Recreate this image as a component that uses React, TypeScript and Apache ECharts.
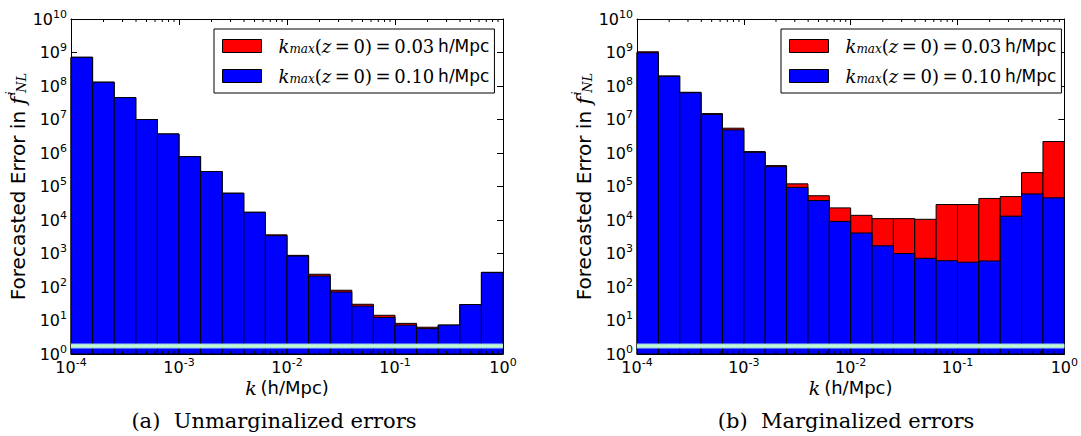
import React, { useEffect, useRef } from "react";
import * as echarts from "echarts";

// bin edges in log10(k), 5 bins per decade
const binEdgeExp = [-4, -3.8, -3.6, -3.4, -3.2, -3, -2.8, -2.6, -2.4, -2.2, -2, -1.8, -1.6, -1.4, -1.2, -1, -0.8, -0.6, -0.4, -0.2, 0];

// (a) unmarginalized errors
const unmargK003 = [7.2e8, 1.3e8, 4.5e7, 1.0e7, 3.7e6, 7.8e5, 2.8e5, 6.3e4, 1.7e4, 3.6e3, 8.8e2, 240, 80, 30.5, 14.3, 8.2, 6.3, 7.3, 30, 275];
const unmargK010 = [7.2e8, 1.3e8, 4.5e7, 1.0e7, 3.7e6, 7.8e5, 2.8e5, 6.3e4, 1.7e4, 3.4e3, 8.4e2, 213, 71, 27, 12.4, 7.3, 5.7, 7.3, 30, 270];

// (b) marginalized errors
const margK003 = [1.05e9, 2.0e8, 6.5e7, 1.5e7, 5.5e6, 1.1e6, 4.2e5, 1.2e5, 5.3e4, 2.3e4, 1.38e4, 1.1e4, 1.1e4, 1.05e4, 2.9e4, 2.9e4, 4.4e4, 5.0e4, 2.6e5, 2.2e6];
const margK010 = [9.8e8, 1.95e8, 6.3e7, 1.42e7, 4.9e6, 1.05e6, 3.9e5, 9.4e4, 3.8e4, 9.1e3, 4.1e3, 1.7e3, 1.0e3, 720, 610, 550, 600, 1.3e4, 6.0e4, 4.6e4];

const refLevel = 1.73;

const captions = ["(a)  Unmarginalized errors", "(b)  Marginalized errors"];
const seriesNames = ["k003", "k010"];
const legendValues = ["0.03", "0.10"];

const RED = "#ff0000";
const BLUE = "#0000ff";

const kEdges = binEdgeExp.map((e) => Math.pow(10, e));
const binData = (vals: number[]) => vals.map((v, i) => [kEdges[i], kEdges[i + 1], v]);

const minorX: number[] = [];
for (let d = -4; d < 0; d++) for (let m = 2; m <= 9; m++) minorX.push(m * Math.pow(10, d));

const SANS = "DejaVu Sans";
const SERIF = "DejaVu Serif";

const expFormatter = (v: number) => {
  const e = Math.round(Math.log10(v));
  return `{b|10}{s|${e}}`;
};
const tickRich = {
  b: { fontSize: 16, fontFamily: SANS, color: "#000" },
  s: { fontSize: 11, fontFamily: SANS, color: "#000", padding: [0, 0, 10, 0] },
};

export default function App() {
  const ref = useRef<HTMLDivElement>(null);
  useEffect(() => {
    document.body.style.margin = "0";
    const chart = echarts.init(ref.current!, null, { renderer: "svg" });

    const grids = [
      { left: 71, top: 19, width: 432, height: 335 },
      { left: 637, top: 19, width: 432, height: 335 },
    ];

    const xAxes: any[] = [];
    const yAxes: any[] = [];
    grids.forEach((_, g) => {
      const common = {
        type: "log",
        logBase: 10,
        min: 1e-4,
        max: 1,
        interval: 1,
        gridIndex: g,
        splitLine: { show: false },
        axisLine: { lineStyle: { color: "#000", width: 1 } },
        axisTick: { inside: true, length: 6, lineStyle: { color: "#000" } },
      };
      xAxes.push({
        ...common,
        position: "bottom",
        axisLabel: { formatter: expFormatter, rich: tickRich, margin: 3 },
        name: "{k|k} {t|(h/Mpc)}",
        nameLocation: "middle",
        nameGap: 24,
        nameMoveOverlap: false,
        nameTextStyle: {
          rich: {
            k: { fontFamily: SERIF, fontStyle: "italic", fontSize: 19, color: "#000" },
            t: { fontFamily: SANS, fontSize: 18, color: "#000" },
          },
        },
      });
      xAxes.push({ ...common, position: "top", axisLabel: { show: false } });
      const ycommon = {
        type: "log",
        logBase: 10,
        min: 1,
        max: 1e10,
        interval: 1,
        gridIndex: g,
        splitLine: { show: false },
        axisLine: { lineStyle: { color: "#000", width: 1 } },
        axisTick: { inside: true, length: 6, lineStyle: { color: "#000" } },
      };
      yAxes.push({
        ...ycommon,
        position: "left",
        axisLabel: { formatter: expFormatter, rich: tickRich, margin: 4 },
        name: "{t|Forecasted Error in }{f|f}{sup|i}{sub|NL}",
        nameLocation: "middle",
        nameRotate: 90,
        nameGap: 40,
        nameTextStyle: {
          rich: {
            t: { fontFamily: SANS, fontSize: 20, color: "#000" },
            f: { fontFamily: SERIF, fontStyle: "italic", fontSize: 21, color: "#000", padding: [0, 3, 0, 0] },
            sup: { fontFamily: SERIF, fontStyle: "italic", fontSize: 12, color: "#000", padding: [0, 0, 14, 0], width: 1 },
            sub: { fontFamily: SERIF, fontStyle: "italic", fontSize: 13, color: "#000", padding: [0, 0, -7, 0] },
          },
        },
      });
      yAxes.push({ ...ycommon, position: "right", axisLabel: { show: false } });
    });

    const barRender = (color: string) => (params: any, api: any) => {
      const p0 = api.coord([api.value(0), api.value(2)]);
      const p1 = api.coord([api.value(1), 1]);
      return {
        type: "rect",
        shape: { x: p0[0], y: p0[1], width: p1[0] - p0[0], height: p1[1] - p0[1] },
        style: { fill: color, stroke: "#000", lineWidth: 1 },
      };
    };

    const series: any[] = [];
    const panels = [
      [unmargK003, unmargK010],
      [margK003, margK010],
    ];
    panels.forEach((pair, g) => {
      [RED, BLUE].forEach((color, s) => {
        series.push({
          type: "custom",
          name: seriesNames[s],
          xAxisIndex: g * 2,
          yAxisIndex: g * 2,
          data: binData(pair[s]),
          encode: { x: [0, 1], y: 2 },
          itemStyle: { color },
          renderItem: barRender(color),
          z: 2 + s,
        });
      });
      series.push({
        type: "line",
        xAxisIndex: g * 2,
        yAxisIndex: g * 2,
        data: [[1e-4, refLevel], [1, refLevel]],
        symbol: "none",
        lineStyle: { color: "#93cfe0", width: 5 },
        z: 5,
        silent: true,
      });
      series.push({
        type: "line",
        xAxisIndex: g * 2,
        yAxisIndex: g * 2,
        data: [[1e-4, refLevel], [1, refLevel]],
        symbol: "none",
        lineStyle: { color: "#c2f7d6", width: 3 },
        z: 6,
        silent: true,
      });
      series.push({
        type: "custom",
        xAxisIndex: g * 2,
        yAxisIndex: g * 2,
        data: minorX.map((x) => [x]),
        encode: { x: 0 },
        clip: false,
        silent: true,
        z: 7,
        renderItem: (params: any, api: any) => {
          const pb = api.coord([api.value(0), 1]);
          const pt = api.coord([api.value(0), 1e10]);
          return {
            type: "group",
            children: [
              { type: "line", shape: { x1: pb[0], y1: pb[1], x2: pb[0], y2: pb[1] - 3 }, style: { stroke: "#000", lineWidth: 1 } },
              { type: "line", shape: { x1: pt[0], y1: pt[1], x2: pt[0], y2: pt[1] + 3 }, style: { stroke: "#000", lineWidth: 1 } },
            ],
          };
        },
      });
    });

    const legendRich = {
      k: { fontFamily: SERIF, fontStyle: "italic", fontSize: 18, color: "#000", padding: [0, 0, 0, 12] },
      sub: { fontFamily: SERIF, fontStyle: "italic", fontSize: 12, color: "#000", padding: [0, 0, -6, 0] },
      m: { fontFamily: SERIF, fontSize: 18, color: "#000" },
      i: { fontFamily: SERIF, fontStyle: "italic", fontSize: 18, color: "#000" },
      u: { fontFamily: SANS, fontSize: 17, color: "#000" },
    };
    const legendFormatter = (name: string) => {
      const v = legendValues[seriesNames.indexOf(name)];
      return `{k|k}{sub|max}{m|(}{i|z}{m|\u2009=\u20090)\u2009=\u2009${v}} {u|h/Mpc}`;
    };
    const legends = [214, 781].map((left) => ({
      left,
      top: 29,
      orient: "vertical",
      backgroundColor: "#fff",
      borderColor: "#000",
      borderWidth: 1,
      borderRadius: 0,
      padding: [7, 5, 7, 8],
      itemWidth: 39,
      itemHeight: 13,
      itemGap: 10,
      icon: "rect",
      selectedMode: false,
      formatter: legendFormatter,
      textStyle: { rich: legendRich, lineHeight: 20 },
      data: [
        { name: "k003", itemStyle: { color: RED, borderColor: "#000", borderWidth: 1 } },
        { name: "k010", itemStyle: { color: BLUE, borderColor: "#000", borderWidth: 1 } },
      ],
    }));

    chart.setOption({
      animation: false,
      textStyle: { fontFamily: SANS },
      grid: grids,
      xAxis: xAxes,
      yAxis: yAxes,
      legend: legends,
      series,
      graphic: captions.map((c, i) => ({
        type: "text",
        x: i === 0 ? 274 : 846,
        y: 421,
        style: {
          text: c,
          fontFamily: SERIF,
          fontSize: 21,
          fill: "#000",
          align: "center",
          verticalAlign: "middle",
        },
      })),
    });
    return () => chart.dispose();
  }, []);
  return <div ref={ref} style={{ width: 1081, height: 436 }} />;
}
